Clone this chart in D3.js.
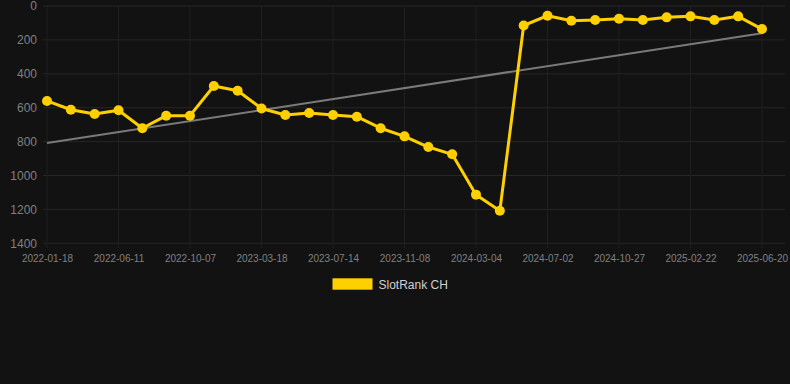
<!DOCTYPE html>
<html>
<head>
<meta charset="utf-8">
<script src="https://cdn.jsdelivr.net/npm/d3@7"></script>
<style>
  html, body { margin: 0; padding: 0; background: #121212; }
  svg { display: block; }
</style>
</head>
<body>
<svg id="chart" width="790" height="384"></svg>
<script>
// ---- data ----
const dates = [
  "2022-01-18","2022-03-07","2022-04-24","2022-06-11","2022-07-20","2022-08-28",
  "2022-10-07","2022-11-30","2023-01-23","2023-03-18","2023-04-26","2023-06-04",
  "2023-07-14","2023-08-22","2023-09-30","2023-11-08","2023-12-17","2024-01-25",
  "2024-03-04","2024-04-12","2024-05-23","2024-07-02","2024-08-10","2024-09-18",
  "2024-10-27","2024-12-05","2025-01-14","2025-02-22","2025-04-01","2025-05-11",
  "2025-06-20"
];
const rankCH = [
  560, 612, 637, 615, 721, 647,
  647, 472, 500, 605, 643, 631,
  643, 653, 721, 769, 832, 875,
  1113, 1208, 115, 57, 87, 83,
  75, 83, 67, 61, 83, 61,
  136
];
const xTickLabels = ["2022-01-18","2022-06-11","2022-10-07","2023-03-18","2023-07-14",
  "2023-11-08","2024-03-04","2024-07-02","2024-10-27","2025-02-22","2025-06-20"];
const yTicks = [0, 200, 400, 600, 800, 1000, 1200, 1400];
const seriesName = "SlotRank CH";

// ---- layout ----
const svg = d3.select("#chart");
const pLeft = 47, pRight = 762, gridRight = 785, pTop = 6, pBottom = 243.3;
const font = "'Liberation Sans', Arial, Helvetica, sans-serif";

const x = d3.scalePoint().domain(dates).range([pLeft, pRight]);
const y = d3.scaleLinear().domain([0, 1400]).range([pTop, pBottom]);

// grid
const grid = svg.append("g");
grid.selectAll("line.h").data(yTicks).join("line")
  .attr("x1", pLeft - 4).attr("x2", gridRight)
  .attr("y1", d => y(d)).attr("y2", d => y(d))
  .attr("stroke", "#262626").attr("stroke-width", 1);
grid.selectAll("line.v").data(xTickLabels).join("line")
  .attr("x1", d => x(d)).attr("x2", d => x(d))
  .attr("y1", pTop).attr("y2", pBottom + 5)
  .attr("stroke", "#1f1f1f").attr("stroke-width", 1);

// y axis labels
const yAxis = d3.axisLeft(y).tickValues(yTicks).tickFormat(d3.format("d")).tickSize(0).tickPadding(0);
const gy = svg.append("g").attr("transform", `translate(37,0)`).call(yAxis);
gy.select(".domain").remove();
gy.selectAll("text").attr("fill", "#808080")
  .style("font-family", font)
  .style("font-size", "12px");

// x axis labels
const xAxis = d3.axisBottom(x).tickValues(xTickLabels).tickSize(0).tickPadding(0);
const gx = svg.append("g").attr("transform", `translate(0,${pBottom + 11.5})`).call(xAxis);
gx.select(".domain").remove();
gx.selectAll("text").attr("fill", "#808080")
  .style("font-family", font)
  .style("font-size", "10px");

// trend line (least squares over series)
const n = rankCH.length;
const idx = d3.range(n);
const mx = d3.mean(idx), my = d3.mean(rankCH);
const sxy = d3.sum(idx, i => (i - mx) * (rankCH[i] - my));
const sxx = d3.sum(idx, i => (i - mx) * (i - mx));
const slope = sxy / sxx, intercept = my - slope * mx;
svg.append("line")
  .attr("x1", x(dates[0])).attr("y1", y(intercept))
  .attr("x2", x(dates[n - 1])).attr("y2", y(intercept + slope * (n - 1)))
  .attr("stroke", "#7a7a7a").attr("stroke-width", 2);

// series line
const color = "#FFD000";
const line = d3.line().x((d, i) => x(dates[i])).y(d => y(d));
svg.append("path").datum(rankCH)
  .attr("d", line).attr("fill", "none")
  .attr("stroke", color).attr("stroke-width", 3).attr("stroke-linejoin", "round");
svg.append("g").selectAll("circle").data(rankCH).join("circle")
  .attr("cx", (d, i) => x(dates[i])).attr("cy", d => y(d))
  .attr("r", 5).attr("fill", color);

// legend
svg.append("rect").attr("x", 332.5).attr("y", 278.3).attr("width", 40).attr("height", 11.4)
  .attr("fill", color);
svg.append("text").attr("x", 378.5).attr("y", 289)
  .attr("fill", "#d0d0d0")
  .style("font-family", font)
  .style("font-size", "12px")
  .text(seriesName);
</script>
</body>
</html>
